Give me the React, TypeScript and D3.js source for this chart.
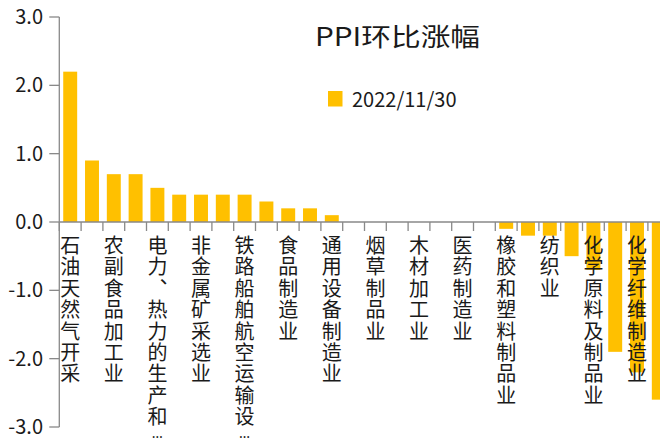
import React, { useEffect } from "react";
import { scaleBand, scaleLinear } from "d3";

// 行业名称（偶数项显示标签）
const categories = [
  "石油天然气开采", "燃气生产和供应业", "农副食品加工业", "煤炭开采和洗选业",
  "电力、热力的生产和供应业", "有色金属矿采选业", "非金属矿采选业", "专用设备制造业",
  "铁路船舶航空运输设备制造业", "汽车制造业", "食品制造业", "酒、饮料和精制茶制造业",
  "通用设备制造业", "家具制造业", "烟草制品业", "印刷业",
  "木材加工业", "仪器仪表制造业", "医药制造业", "皮革制鞋业",
  "橡胶和塑料制品业", "纺织服装服饰业", "纺织业", "造纸和纸制品业",
  "化学原料及制品业", "有色金属冶炼业", "化学纤维制造业", "石油煤炭加工业",
];
const values = [
  2.2, 0.9, 0.7, 0.7, 0.5, 0.4, 0.4, 0.4, 0.4, 0.3, 0.2, 0.2, 0.1, 0,
  0, 0, 0, 0, 0, 0, -0.1, -0.2, -0.2, -0.5, -0.7, -1.9, -2.2, -2.6,
];
const yTicks = [3, 2, 1, 0, -1, -2, -3];
const title = "PPI环比涨幅";
const seriesName = "2022/11/30";

const W = 660;
const H = 441;
const font = "'Noto Sans CJK SC', 'Noto Sans', sans-serif";
const barColor = "#FFC000";
const axisColor = "#898989";
const maxChars = 9;

export default function App() {
  useEffect(() => {
    document.body.style.margin = "0";
  }, []);

  const x0 = 59.3;
  const step = 21.8;
  const x = scaleBand<string>()
    .domain(categories)
    .range([x0, x0 + step * categories.length])
    .paddingInner(0.36)
    .paddingOuter(0.18);
  const y = scaleLinear().domain([-3, 3]).range([427, 17]);

  const s = x.step();
  const bounds = categories.map((c) => (x(c) as number) - s * 0.18);
  bounds.push(bounds[bounds.length - 1] + s);

  // 竖排标签，超过9个字截断
  const labelChars = (name: string) => {
    const chars = Array.from(name);
    return { text: chars.slice(0, maxChars).join(""), cut: chars.length > maxChars };
  };

  return (
    <svg width={W} height={H} style={{ display: "block", background: "#fff" }} fontFamily={font}>
      {/* bars */}
      {categories.map((c, i) => (
        <rect
          key={c}
          x={x(c)}
          width={x.bandwidth()}
          y={Math.min(y(values[i]), y(0))}
          height={Math.abs(y(values[i]) - y(0))}
          fill={barColor}
        />
      ))}

      {/* y axis */}
      <line x1={x0} x2={x0} y1={y(3)} y2={y(-3)} stroke={axisColor} strokeWidth={1.3} />
      {yTicks.map((t) => (
        <g key={t} transform={`translate(0,${y(t)})`}>
          <line x1={x0 - 10} x2={x0} stroke={axisColor} strokeWidth={1.3} />
          <text x={43} dy="0.35em" textAnchor="end" fontSize={20} fill="#1a1a1a">
            {t.toFixed(1)}
          </text>
        </g>
      ))}

      {/* x axis */}
      <line x1={x0} x2={bounds[bounds.length - 1]} y1={y(0)} y2={y(0)} stroke={axisColor} strokeWidth={1.3} />
      {bounds.map((b, i) => (
        <line key={i} x1={b} x2={b} y1={y(0)} y2={y(0) + 9} stroke={axisColor} strokeWidth={1.3} />
      ))}

      {/* vertical category labels, every other one */}
      {categories.map((c, i) => {
        if (i % 2 !== 0) return null;
        const cx = (x(c) as number) + x.bandwidth() / 2;
        const { text, cut } = labelChars(c);
        return (
          <g key={c}>
            <text
              x={cx}
              y={235.5}
              fontSize={20}
              fill="#1a1a1a"
              letterSpacing={1.4}
              style={{ writingMode: "vertical-rl", textOrientation: "upright" } as React.CSSProperties}
            >
              {text}
            </text>
            {cut ? (
              <text x={cx} y={438} textAnchor="middle" fontSize={14} fontFamily="'Noto Sans', sans-serif" fill="#1a1a1a">
                …
              </text>
            ) : null}
          </g>
        );
      })}

      {/* title */}
      <text x={315} y={46} fontSize={25} textLength={165} lengthAdjust="spacingAndGlyphs" fill="#1a1a1a">
        {title}
      </text>

      {/* legend */}
      <rect x={328} y={91} width={14.5} height={15.5} fill={barColor} />
      <text x={352} y={107} fontSize={20} fill="#1a1a1a">
        {seriesName}
      </text>
    </svg>
  );
}
